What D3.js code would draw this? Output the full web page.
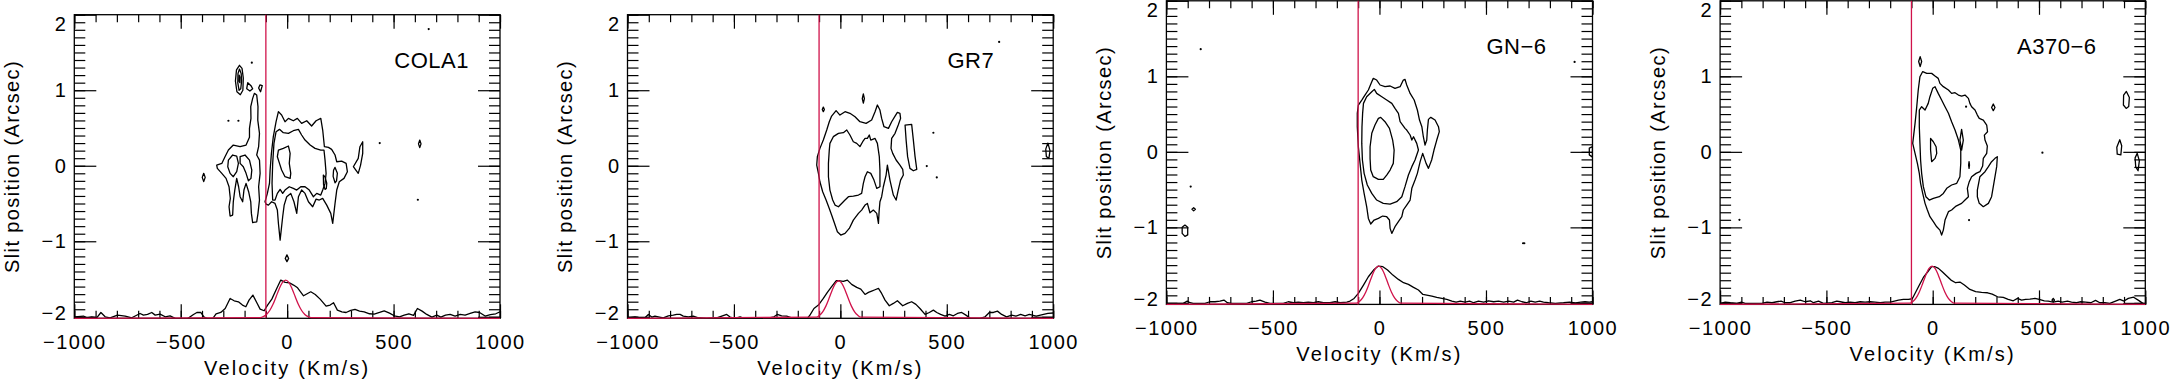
<!DOCTYPE html>
<html><head><meta charset="utf-8">
<script src="https://cdn.jsdelivr.net/npm/d3@7"></script>
<style>
html,body{margin:0;padding:0;background:#fff;}
svg{display:block;}
text{font-family:"Liberation Sans",Arial,Helvetica,sans-serif;fill:#000;}
</style></head><body>
<svg id="chart" width="2171" height="382"></svg>
<script>
// ---------------- data ----------------
const galaxyNames = ["COLA1", "GR7", "GN\u22126", "A370\u22126"];
const velocityTicks = [-1000, -500, 0, 500, 1000];
const positionTicks = [-2, -1, 0, 1, 2];
const velocityDomain = [-1000, 1000];
const positionDomain = [-2.02, 2];
const systemicCut = [-100, -100, -100, -100];

// contour rings: [velocity km/s, slit position arcsec]
const cola1Contours = [
  [[-154,0.958],[-143,0.936],[-137,0.782],[-138,0.605],[-130,0.429],[-134,0.252],[-143,0.142],[-130,0.075],[-127,-0.101],[-134,-0.278],[-130,-0.454],[-137,-0.631],[-143,-0.742],[-162,-0.754],[-168,-0.631],[-171,-0.477],[-181,-0.344],[-193,-0.234],[-203,-0.322],[-209,-0.477],[-221,-0.41],[-228,-0.278],[-237,-0.167],[-246,-0.322],[-253,-0.477],[-256,-0.653],[-268,-0.667],[-273,-0.543],[-267,-0.433],[-273,-0.278],[-287,-0.167],[-307,-0.101],[-328,-0.035],[-331,0.009],[-307,0.031],[-292,0.12],[-276,0.208],[-253,0.274],[-221,0.252],[-193,0.274],[-177,0.376],[-177,0.495],[-170,0.627],[-171,0.782],[-162,0.892]],
  [[-276,0.075],[-256,0.142],[-237,0.128],[-229,0.031],[-237,-0.079],[-253,-0.145],[-268,-0.101],[-279,-0.013]],
  [[-221,0.12],[-198,0.142],[-177,0.075],[-166,-0.057],[-170,-0.167],[-182,-0.198],[-193,-0.101],[-206,-0.013],[-221,0.031]],
  [[-104,-0.477],[-93,-0.366],[-83,-0.234],[-80,-0.057],[-74,0.164],[-65,0.385],[-52,0.583],[-41,0.716],[-26,0.671],[-10,0.583],[6,0.627],[29,0.596],[48,0.627],[68,0.561],[92,0.596],[115,0.526],[136,0.596],[158,0.627],[167,0.473],[175,0.252],[194,0.243],[209,0.217],[225,0.142],[233,0.053],[256,0.062],[277,0.031],[283,-0.079],[267,-0.167],[245,-0.212],[233,-0.322],[225,-0.499],[214,-0.764],[205,-0.631],[186,-0.521],[167,-0.433],[151,-0.454],[136,-0.442],[120,-0.543],[100,-0.477],[84,-0.366],[68,-0.322],[53,-0.41],[45,-0.631],[32,-0.477],[17,-0.366],[-2,-0.41],[-14,-0.521],[-21,-0.675],[-33,-0.984],[-41,-0.764],[-46,-0.587],[-57,-0.499],[-73,-0.477],[-88,-0.521],[-99,-0.508]],
  [[-68,-0.454],[-71,-0.234],[-68,0.031],[-62,0.296],[-52,0.451],[-36,0.482],[-18,0.438],[6,0.429],[29,0.464],[53,0.482],[68,0.407],[84,0.34],[108,0.274],[131,0.23],[158,0.208],[173,0.208],[178,0.075],[183,-0.101],[178,-0.234],[167,-0.322],[158,-0.388],[139,-0.366],[123,-0.41],[104,-0.322],[84,-0.278],[64,-0.278],[45,-0.322],[29,-0.3],[10,-0.278],[-10,-0.322],[-21,-0.366],[-33,-0.313],[-46,-0.366],[-57,-0.454]],
  [[-41,0.208],[-18,0.23],[6,0.261],[14,0.164],[10,0.031],[17,-0.101],[14,-0.167],[-10,-0.145],[-26,-0.057],[-36,0.031],[-46,0.12]],
  [[170,-0.123],[178,-0.15],[186,-0.23],[184,-0.3],[178,-0.313],[171,-0.25]],
  [[225,-0.022],[236,-0.1],[232,-0.2],[225,-0.225],[216,-0.14],[218,-0.06]],
  [[311,-0.013],[334,0.097],[342,0.252],[355,0.318],[355,0.164],[345,0.009],[334,-0.101]],
  [[-224,1.33],[-212,1.29],[-206,1.16],[-208,1.0],[-220,0.94],[-236,0.98],[-243,1.12],[-238,1.27]],
  [[-224,1.28],[-216,1.22],[-214,1.12],[-218,1.02],[-226,1.0],[-232,1.1],[-231,1.22]],
  [[-226,1.2],[-221,1.17],[-222,1.1],[-227,1.12]],
  [[-185,1.1],[-170,1.06],[-162,1.02],[-175,0.99],[-190,1.02]],
  [[-128,1.07],[-117,1.06],[-125,0.98],[-134,1.03]],
  [[-392,-0.1],[-385,-0.154],[-392,-0.21],[-399,-0.154]],
  [[-1,-1.18],[7,-1.227],[-1,-1.27],[-9,-1.227]],
  [[623,0.34],[629,0.29],[623,0.24],[617,0.29]]
];
const cola1Specks = [[-166,1.365],[-229,0.596],[-276,0.596],[435,0.30],[614,-0.45],[665,1.81]];

const gr7Contours = [
  [[-41,0.658],[-20,0.729],[-2,0.671],[22,0.716],[45,0.694],[69,0.649],[92,0.583],[121,0.561],[147,0.605],[163,0.716],[174,0.804],[186,0.738],[194,0.627],[205,0.517],[226,0.495],[241,0.583],[257,0.658],[268,0.707],[280,0.694],[283,0.627],[272,0.539],[257,0.429],[241,0.362],[238,0.23],[246,0.164],[262,0.076],[280,0.009],[293,-0.048],[296,-0.123],[283,-0.19],[272,-0.322],[262,-0.454],[249,-0.388],[233,-0.19],[221,0.009],[215,-0.123],[202,-0.278],[194,-0.41],[186,-0.477],[182,-0.609],[179,-0.764],[171,-0.631],[155,-0.587],[139,-0.623],[127,-0.499],[116,-0.521],[100,-0.587],[85,-0.631],[61,-0.72],[42,-0.83],[22,-0.896],[2,-0.918],[-14,-0.874],[-30,-0.742],[-41,-0.653],[-52,-0.565],[-67,-0.454],[-83,-0.344],[-96,-0.212],[-103,-0.101],[-111,0.009],[-108,0.12],[-96,0.23],[-80,0.34],[-64,0.473],[-52,0.583]],
  [[-49,0.296],[-33,0.385],[-9,0.429],[14,0.438],[30,0.473],[45,0.407],[61,0.318],[77,0.296],[92,0.253],[105,0.318],[116,0.362],[127,0.362],[136,0.407],[143,0.34],[163,0.362],[174,0.296],[183,0.12],[186,-0.057],[186,-0.278],[171,-0.3],[158,-0.19],[143,-0.101],[127,-0.079],[116,-0.146],[108,-0.234],[100,-0.366],[85,-0.388],[61,-0.401],[38,-0.41],[22,-0.454],[6,-0.499],[-9,-0.543],[-25,-0.521],[-36,-0.454],[-49,-0.322],[-56,-0.146],[-56,0.031],[-52,0.208]],
  [[304,0.539],[335,0.548],[343,0.34],[351,0.12],[359,-0.048],[343,-0.066],[327,-0.035],[316,0.12],[309,0.34]],
  [[-80,0.776],[-75,0.746],[-80,0.716],[-85,0.746]],
  [[108,0.95],[113,0.89],[108,0.83],[103,0.89]],
  [[975,0.3],[985,0.2],[980,0.1],[968,0.12],[965,0.22]]
];
const gr7Specks = [[437,0.437],[406,-0.004],[453,-0.155],[746,1.64]];

const gn6Contours = [
  [[-99,0.62],[-83,0.686],[-68,0.752],[-52,0.819],[-36,0.929],[-29,0.973],[-13,0.951],[3,0.885],[26,0.863],[50,0.872],[73,0.841],[97,0.863],[112,0.951],[120,0.96],[128,0.885],[144,0.774],[163,0.686],[178,0.554],[188,0.421],[199,0.333],[206,0.2],[214,0.09],[222,0.156],[225,0.289],[230,0.43],[241,0.457],[261,0.421],[277,0.333],[281,0.267],[269,0.156],[256,0.024],[245,-0.108],[230,-0.219],[219,-0.153],[203,-0.02],[191,-0.13],[178,-0.285],[167,-0.373],[152,-0.483],[144,-0.638],[128,-0.704],[112,-0.77],[105,-0.859],[89,-0.925],[73,-0.991],[58,-1.08],[50,-1.013],[47,-0.903],[34,-0.859],[15,-0.85],[-5,-0.881],[-25,-0.903],[-41,-0.956],[-52,-0.881],[-60,-0.726],[-72,-0.55],[-83,-0.373],[-91,-0.153],[-99,0.068],[-104,0.333],[-104,0.509]],
  [[-75,0.642],[-60,0.73],[-36,0.796],[-24,0.827],[-13,0.774],[11,0.73],[34,0.686],[58,0.642],[73,0.576],[89,0.509],[97,0.399],[109,0.355],[120,0.311],[128,0.289],[144,0.223],[152,0.156],[160,0.2],[175,0.112],[183,0.024],[167,-0.108],[152,-0.196],[136,-0.307],[120,-0.461],[105,-0.594],[81,-0.66],[50,-0.691],[18,-0.682],[-13,-0.638],[-36,-0.55],[-57,-0.439],[-72,-0.285],[-80,-0.108],[-83,0.112],[-82,0.333],[-79,0.509]],
  [[-36,0.245],[-21,0.355],[-5,0.443],[6,0.457],[26,0.399],[47,0.311],[62,0.156],[69,0.024],[65,-0.153],[50,-0.241],[34,-0.307],[18,-0.364],[-5,-0.364],[-29,-0.329],[-41,-0.241],[-44,-0.087],[-44,0.068]],
  [[-872,-0.74],[-864,-0.76],[-872,-0.78],[-880,-0.76]],
  [[-913,-0.97],[-900,-1.0],[-900,-1.1],[-913,-1.12],[-926,-1.08],[-926,-1.0]],
  [[985,0.05],[1000,0.07],[1000,-0.07],[985,-0.04]]
];
const gn6Specks = [[-839,1.36],[-886,-0.46],[916,1.19],[674,-1.21],[680,-1.21]];

const a3706Contours = [
  [[-94,0.112],[-83,0.377],[-75,0.598],[-68,0.819],[-60,0.995],[-47,1.063],[-28,1.039],[-5,1.039],[11,1.004],[26,0.973],[34,0.907],[50,0.863],[74,0.819],[89,0.774],[105,0.783],[121,0.752],[136,0.739],[152,0.752],[168,0.708],[175,0.642],[183,0.598],[199,0.553],[210,0.487],[219,0.443],[238,0.421],[254,0.355],[258,0.266],[243,0.222],[246,0.156],[257,0.077],[254,-0.02],[238,-0.086],[235,-0.188],[222,-0.263],[204,-0.285],[183,-0.329],[172,-0.395],[163,-0.483],[168,-0.594],[152,-0.638],[136,-0.682],[110,-0.718],[89,-0.77],[74,-0.792],[58,-0.903],[50,-1.036],[42,-1.102],[34,-1.036],[19,-0.992],[3,-0.925],[-13,-0.859],[-25,-0.77],[-36,-0.682],[-47,-0.55],[-57,-0.417],[-63,-0.285],[-72,-0.152],[-83,-0.02]],
  [[-63,0.553],[-52,0.598],[-36,0.553],[-21,0.642],[-13,0.73],[0,0.841],[11,0.863],[26,0.774],[42,0.686],[58,0.598],[74,0.51],[89,0.399],[105,0.289],[121,0.156],[132,0.024],[132,-0.152],[128,-0.329],[113,-0.417],[89,-0.439],[66,-0.483],[50,-0.55],[31,-0.594],[3,-0.616],[-16,-0.638],[-32,-0.594],[-44,-0.461],[-52,-0.285],[-57,-0.108],[-60,0.112],[-63,0.333]],
  [[-10,0.178],[3,0.134],[16,0.068],[19,-0.02],[11,-0.086],[-5,-0.13],[-10,0.024]],
  [[210,-0.506],[222,-0.329],[246,-0.263],[262,-0.196],[277,-0.13],[293,-0.086],[304,-0.064],[301,-0.196],[293,-0.329],[285,-0.461],[277,-0.594],[262,-0.682],[238,-0.726],[219,-0.682],[210,-0.594]],
  [[136,0.298],[144,0.156],[136,0.024],[128,0.156]],
  [[-59,1.261],[-52,1.196],[-59,1.128],[-66,1.196]],
  [[285,0.633],[293,0.588],[285,0.545],[277,0.588]],
  [[171,-0.13],[173,-0.175],[171,-0.219],[169,-0.175]],
  [[911,0.8],[925,0.72],[922,0.6],[910,0.575],[897,0.62],[898,0.75]],
  [[880,0.16],[889,0.08],[885,-0.04],[868,-0.03],[866,0.06]],
  [[962,-0.02],[972,-0.12],[966,-0.25],[955,-0.2],[952,-0.08]],
  [[567,-1.94],[573,-1.963],[567,-1.985],[561,-1.963]]
];
const a3706Specks = [[157,0.598],[516,-0.011],[171,-0.903],[-909,-0.9]];

// collapsed 1D spectra, plotted in slit-position units
const cola1Spectrum = [[-1000,-2.0],[-996,-2.0],[-957,-1.99],[-941,-2.013],[-918,-2.0],[-894,-2.01],[-875,-1.943],[-855,-2.0],[-832,-2.013],[-797,-1.978],[-761,-1.99],[-730,-2.013],[-691,-1.956],[-675,-1.978],[-656,-1.969],[-636,-1.943],[-620,-1.978],[-597,-1.964],[-573,-2.0],[-550,-1.987],[-526,-2.02],[-471,-2.03],[-440,-1.969],[-424,-1.943],[-406,-1.943],[-390,-2.004],[-370,-2.03],[-349,-2.02],[-334,-1.96],[-312,-1.943],[-291,-1.89],[-268,-1.757],[-249,-1.788],[-229,-1.801],[-210,-1.845],[-194,-1.867],[-179,-1.779],[-161,-1.713],[-143,-1.81],[-127,-1.898],[-108,-1.92],[-92,-1.845],[-72,-1.766],[-49,-1.625],[-30,-1.514],[-9,-1.545],[11,-1.55],[30,-1.58],[49,-1.616],[77,-1.722],[96,-1.691],[111,-1.669],[132,-1.704],[155,-1.766],[183,-1.859],[202,-1.845],[218,-1.814],[236,-1.912],[257,-1.934],[277,-1.943],[299,-1.916],[319,-1.903],[340,-1.925],[362,-1.934],[387,-1.96],[409,-1.964],[434,-1.943],[456,-1.921],[481,-1.951],[503,-1.987],[528,-2.0],[550,-1.978],[572,-1.96],[594,-1.982],[612,-1.89],[634,-1.925],[656,-1.969],[680,-2.004],[703,-1.978],[722,-2.004],[744,-1.978],[766,-1.969],[789,-1.99],[813,-1.969],[836,-1.978],[860,-1.956],[883,-1.934],[904,-1.943],[930,-1.99],[955,-1.97],[980,-1.96],[1000,-1.935]];
const gr7Spectrum = [[-1000,-2.013],[-996,-2.013],[-965,-2.0],[-941,-2.013],[-918,-2.013],[-902,-1.969],[-886,-2.004],[-871,-1.991],[-855,-2.0],[-832,-2.013],[-808,-1.987],[-785,-1.978],[-769,-1.969],[-753,-1.969],[-738,-1.991],[-714,-2.0],[-691,-1.991],[-667,-2.013],[-628,-2.022],[-581,-2.013],[-557,-1.991],[-534,-1.969],[-518,-2.004],[-495,-2.022],[-471,-2.0],[-453,-2.022],[-393,-2.022],[-346,-2.022],[-312,-2.0],[-296,-1.969],[-276,-1.987],[-252,-1.991],[-229,-2.013],[-189,-2.022],[-155,-2.022],[-143,-1.978],[-124,-1.89],[-103,-1.845],[-80,-1.757],[-61,-1.677],[-41,-1.602],[-20,-1.523],[-2,-1.523],[14,-1.532],[33,-1.514],[53,-1.571],[77,-1.611],[96,-1.633],[116,-1.704],[132,-1.677],[147,-1.66],[163,-1.642],[179,-1.624],[194,-1.691],[210,-1.779],[230,-1.854],[249,-1.823],[268,-1.788],[293,-1.854],[315,-1.823],[335,-1.801],[355,-1.836],[374,-1.89],[398,-1.969],[418,-1.943],[437,-1.912],[453,-1.943],[471,-1.969],[492,-1.991],[512,-1.969],[531,-1.987],[550,-1.956],[570,-1.943],[590,-1.978],[612,-2.022],[656,-2.022],[680,-2.0],[700,-1.943],[719,-1.943],[738,-1.925],[758,-1.969],[781,-2.0],[805,-1.978],[825,-1.991],[847,-1.969],[868,-1.987],[888,-1.969],[920,-1.99],[950,-1.97],[975,-1.955],[1000,-1.95]];
const gn6Spectrum = [[-1000,-2.007],[-921,-2.007],[-902,-1.976],[-889,-1.998],[-874,-2.007],[-819,-2.007],[-796,-1.985],[-772,-1.985],[-749,-1.976],[-730,-1.963],[-714,-1.998],[-694,-2.007],[-623,-2.007],[-600,-1.985],[-579,-1.976],[-561,-1.963],[-537,-1.989],[-514,-2.007],[-451,-2.007],[-428,-1.985],[-404,-1.998],[-381,-1.989],[-357,-1.998],[-334,-1.989],[-310,-1.998],[-287,-1.985],[-263,-1.998],[-232,-1.998],[-208,-1.985],[-185,-1.998],[-153,-1.989],[-138,-1.976],[-119,-1.941],[-99,-1.875],[-75,-1.764],[-52,-1.654],[-25,-1.557],[-5,-1.512],[16,-1.521],[38,-1.565],[63,-1.632],[89,-1.689],[113,-1.733],[136,-1.755],[160,-1.795],[183,-1.83],[204,-1.888],[222,-1.897],[246,-1.91],[269,-1.928],[293,-1.941],[316,-1.954],[340,-1.976],[360,-1.989],[379,-1.976],[402,-1.989],[423,-1.976],[442,-1.998],[465,-1.976],[489,-1.989],[512,-1.972],[536,-1.985],[559,-1.976],[583,-1.989],[606,-1.976],[630,-1.989],[648,-1.963],[669,-1.985],[689,-1.998],[711,-1.976],[731,-1.989],[752,-1.976],[770,-1.989],[794,-1.998],[825,-2.007],[864,-1.998],[893,-1.989],[920,-2.0],[945,-1.99],[965,-1.985],[985,-1.99],[1000,-1.985]];
const a3706Spectrum = [[-1000,-2.007],[-999,-2.007],[-976,-1.989],[-952,-1.998],[-921,-2.007],[-900,-1.989],[-882,-2.007],[-803,-2.007],[-779,-1.989],[-756,-1.998],[-733,-1.985],[-713,-1.976],[-694,-1.998],[-670,-1.998],[-647,-1.976],[-623,-1.963],[-600,-1.985],[-576,-1.972],[-561,-1.998],[-537,-1.976],[-514,-2.007],[-474,-1.998],[-451,-1.976],[-435,-1.985],[-412,-1.998],[-388,-1.989],[-365,-1.998],[-341,-1.985],[-318,-1.989],[-294,-1.985],[-271,-1.989],[-247,-1.998],[-224,-1.989],[-200,-1.989],[-180,-1.976],[-161,-1.963],[-138,-1.954],[-114,-1.954],[-96,-1.945],[-67,-1.786],[-44,-1.663],[-23,-1.588],[-5,-1.521],[11,-1.521],[27,-1.543],[45,-1.588],[66,-1.645],[86,-1.698],[108,-1.733],[128,-1.724],[149,-1.764],[175,-1.822],[202,-1.852],[230,-1.861],[258,-1.866],[280,-1.883],[305,-1.919],[332,-1.928],[355,-1.954],[379,-1.972],[399,-1.941],[418,-1.963],[437,-1.954],[457,-1.95],[481,-1.941],[501,-1.954],[525,-1.972],[543,-1.976],[567,-1.989],[590,-1.976],[609,-1.989],[634,-1.976],[653,-1.989],[677,-1.998],[697,-1.985],[719,-1.989],[744,-1.998],[766,-1.967],[786,-1.998],[810,-1.998],[833,-2.007],[860,-1.976],[880,-1.954],[900,-1.976],[920,-1.94],[945,-1.925],[970,-1.97],[990,-2.01],[1000,-2.01]];

// fitted line profiles (red)
const cola1Model = [[-1000,-2.02],[-127,-2.011],[-112,-1.998],[-97,-1.969],[-82,-1.917],[-67,-1.838],[-52,-1.735],[-37,-1.628],[-22,-1.545],[-7,-1.514],[8,-1.545],[23,-1.628],[38,-1.735],[53,-1.838],[68,-1.917],[83,-1.969],[98,-1.998],[113,-2.011],[1000,-2.02]];
const gr7Model = [[-1000,-2.02],[-113,-2.004],[-98,-1.98],[-83,-1.934],[-68,-1.859],[-53,-1.756],[-38,-1.645],[-23,-1.557],[-8,-1.523],[7,-1.557],[22,-1.645],[37,-1.756],[52,-1.859],[67,-1.934],[82,-1.98],[97,-2.004],[1000,-2.02]];
const gn6Model = [[-1000,-2.02],[-109,-2.004],[-94,-1.98],[-79,-1.933],[-64,-1.855],[-49,-1.75],[-34,-1.636],[-19,-1.547],[-4,-1.512],[11,-1.547],[26,-1.636],[41,-1.75],[56,-1.855],[71,-1.933],[86,-1.98],[101,-2.004],[1000,-2.02]];
const a3706Model = [[-1000,-2.02],[-108,-2.004],[-93,-1.98],[-78,-1.933],[-63,-1.855],[-48,-1.75],[-33,-1.636],[-18,-1.547],[-3,-1.512],[12,-1.547],[27,-1.636],[42,-1.75],[57,-1.855],[72,-1.933],[87,-1.98],[102,-2.004],[1000,-2.02]];

// ---------------- layout (pixels) ----------------
const layout = [
  {left: 74.3,   top: 14.7, width: 425.7, height: 303.6, nameDx: 320},
  {left: 627.5,  top: 14.7, width: 425.7, height: 303.6, nameDx: 320},
  {left: 1166.4, top: 0.8,  width: 426.1, height: 303.6, nameDx: 320},
  {left: 1720.1, top: 0.8,  width: 425.2, height: 303.6, nameDx: 297}
];
const panels = [
  {name: galaxyNames[0], contours: cola1Contours, specks: cola1Specks, spectrum: cola1Spectrum, model: cola1Model, cut: systemicCut[0]},
  {name: galaxyNames[1], contours: gr7Contours,   specks: gr7Specks,   spectrum: gr7Spectrum,   model: gr7Model,   cut: systemicCut[1]},
  {name: galaxyNames[2], contours: gn6Contours,   specks: gn6Specks,   spectrum: gn6Spectrum,   model: gn6Model,   cut: systemicCut[2]},
  {name: galaxyNames[3], contours: a3706Contours, specks: a3706Specks, spectrum: a3706Spectrum, model: a3706Model, cut: systemicCut[3]}
];

const RED = "#d0124a";
const LW = 1.3;
const fmt = d => (d < 0 ? "\u2212" + Math.abs(d) : String(d));
const svg = d3.select("#chart");

panels.forEach((p, i) => {
  const L = layout[i];
  const x = d3.scaleLinear().domain(velocityDomain).range([0, L.width]);
  const y = d3.scaleLinear().domain(positionDomain).range([L.height, 0]);
  const g = svg.append("g").attr("transform", `translate(${L.left},${L.top})`);

  const clipId = "clip" + i;
  g.append("clipPath").attr("id", clipId).append("rect")
    .attr("x", 0).attr("y", 0).attr("width", L.width).attr("height", L.height);
  const plot = g.append("g").attr("clip-path", `url(#${clipId})`);

  const ring = d3.line().x(d => x(d[0])).y(d => y(d[1])).curve(d3.curveLinearClosed);
  plot.selectAll("path.contour").data(p.contours).join("path")
    .attr("class", "contour").attr("d", ring)
    .attr("fill", "none").attr("stroke", "#000").attr("stroke-width", LW).attr("stroke-linejoin", "round");

  plot.selectAll("circle.speck").data(p.specks).join("circle")
    .attr("class", "speck").attr("cx", d => x(d[0])).attr("cy", d => y(d[1])).attr("r", 1.1).attr("fill", "#000");

  const trace = d3.line().x(d => x(d[0])).y(d => y(d[1]));
  plot.append("path").datum(p.spectrum).attr("d", trace)
    .attr("fill", "none").attr("stroke", "#000").attr("stroke-width", LW).attr("stroke-linejoin", "round");

  // axes (ticks pointing inward)
  const axes = g.append("g").attr("class", "axes");
  const styleAxis = sel => {
    sel.select(".domain").remove();
    sel.selectAll(".tick line").attr("stroke", "#000").attr("stroke-width", 1.2);
    sel.selectAll("text").attr("font-size", 20).attr("fill", "#000")
      .style("font-family", '"Liberation Sans", Arial, sans-serif').style("letter-spacing", "1.5px");
  };
  axes.append("g").attr("transform", `translate(0,${L.height})`)
    .call(d3.axisBottom(x).ticks(20).tickSize(-7.5).tickFormat("")).call(styleAxis);
  axes.append("g").attr("transform", `translate(0,${L.height})`)
    .call(d3.axisBottom(x).tickValues(velocityTicks).tickSizeInner(-14).tickSizeOuter(0).tickPadding(16.5).tickFormat(fmt)).call(styleAxis);
  axes.append("g")
    .call(d3.axisTop(x).ticks(20).tickSize(-7.5).tickFormat("")).call(styleAxis);
  axes.append("g")
    .call(d3.axisTop(x).tickValues(velocityTicks).tickSize(-14).tickFormat("")).call(styleAxis);
  axes.append("g")
    .call(d3.axisLeft(y).ticks(40).tickSize(-11).tickFormat("")).call(styleAxis);
  const yl = axes.append("g")
    .call(d3.axisLeft(y).tickValues(positionTicks).tickSizeInner(-22).tickSizeOuter(0).tickPadding(7).tickFormat(fmt)).call(styleAxis);
  yl.selectAll(".tick text").attr("transform", d => d === 2 ? "translate(0,9)" : (d === -2 ? "translate(0,-4)" : null));
  axes.append("g").attr("transform", `translate(${L.width},0)`)
    .call(d3.axisRight(y).ticks(40).tickSize(-11).tickFormat("")).call(styleAxis);
  axes.append("g").attr("transform", `translate(${L.width},0)`)
    .call(d3.axisRight(y).tickValues(positionTicks).tickSize(-22).tickFormat("")).call(styleAxis);

  g.append("rect").attr("x", 0).attr("y", 0).attr("width", L.width).attr("height", L.height)
    .attr("fill", "none").attr("stroke", "#000").attr("stroke-width", LW);

  // red: systemic cut line and fitted profile
  g.append("line").attr("x1", x(p.cut)).attr("x2", x(p.cut))
    .attr("y1", y(positionDomain[0])).attr("y2", y(positionDomain[1]))
    .attr("stroke", RED).attr("stroke-width", LW);
  g.append("path").datum(p.model).attr("d", d3.line().x(d => x(d[0])).y(d => y(d[1])).curve(d3.curveMonotoneX))
    .attr("fill", "none").attr("stroke", RED).attr("stroke-width", LW);

  // texts
  g.append("text").attr("x", L.nameDx).attr("y", 53.6).attr("font-size", 22)
    .style("letter-spacing", "0.5px").text(p.name);
  g.append("text").attr("x", L.width / 2).attr("y", L.height + 57).attr("text-anchor", "middle")
    .attr("font-size", 20).style("letter-spacing", "2.2px").text("Velocity (Km/s)");
  g.append("text").attr("transform", `translate(-55.5,${L.height / 2}) rotate(-90)`).attr("text-anchor", "middle")
    .attr("font-size", 20).style("letter-spacing", "1.4px").text("Slit position (Arcsec)");
});
</script>
</body></html>
